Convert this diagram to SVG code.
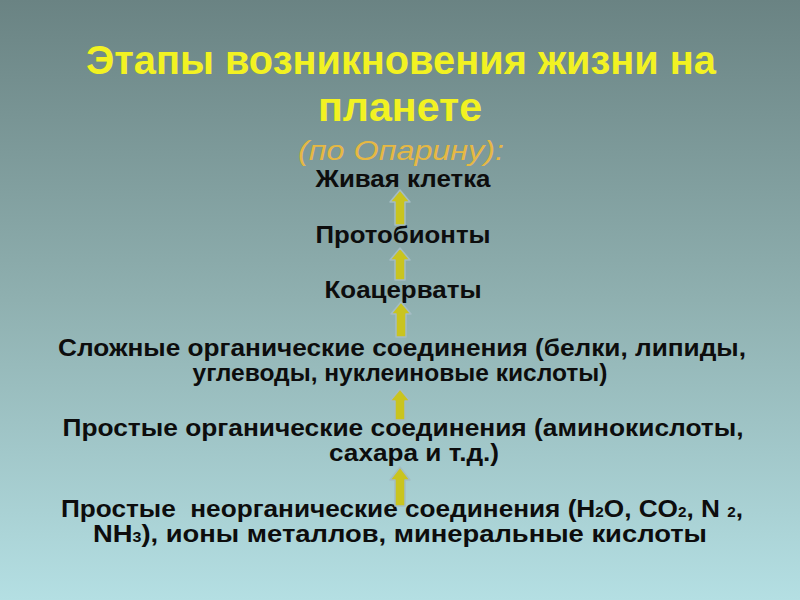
<svg xmlns="http://www.w3.org/2000/svg" width="800" height="600" viewBox="0 0 800 600">
  <defs>
    <linearGradient id="bg" x1="0" y1="0" x2="0" y2="1">
      <stop offset="0" stop-color="#6a8383"/>
      <stop offset="0.5" stop-color="#8fb0b0"/>
      <stop offset="1" stop-color="#b4dfe3"/>
    </linearGradient>
  </defs>
  <style>
    .title { font-family: "Liberation Sans", Arial, sans-serif; font-weight: bold; font-size: 40px; fill: #f2f222; text-anchor: middle; }
    .sub { font-family: "Liberation Sans", Arial, sans-serif; font-style: italic; font-size: 28px; fill: #e6b843; text-anchor: middle; }
    .t { font-family: "Liberation Sans", Arial, sans-serif; font-weight: bold; font-size: 24px; fill: #0d0d0d; text-anchor: middle; white-space: pre; }
    .sb { font-size: 14px; }
    .a { fill: #c9c41f; stroke: #a4bcc4; stroke-width: 1.5; stroke-linejoin: round; }
  </style>
  <rect width="800" height="600" fill="url(#bg)"/>

  <g id="title">
    <text class="title" x="401" y="74" textLength="630" lengthAdjust="spacingAndGlyphs">Этапы возникновения жизни на</text>
    <text class="title" x="400" y="121" textLength="164" lengthAdjust="spacingAndGlyphs">планете</text>
    <text class="sub" x="401" y="160" textLength="206" lengthAdjust="spacingAndGlyphs">(по Опарину):</text>
  </g>

  <g id="n1"><text class="t" x="403" y="187" textLength="175" lengthAdjust="spacingAndGlyphs">Живая клетка</text></g>
  <g id="n2"><text class="t" x="403" y="243" textLength="175" lengthAdjust="spacingAndGlyphs">Протобионты</text></g>
  <g id="n3"><text class="t" x="403" y="298" textLength="157" lengthAdjust="spacingAndGlyphs">Коацерваты</text></g>
  <g id="n4">
    <text class="t" x="402" y="356" textLength="688" lengthAdjust="spacingAndGlyphs">Сложные органические соединения (белки, липиды,</text>
    <text class="t" x="400" y="381" textLength="415" lengthAdjust="spacingAndGlyphs">углеводы, нуклеиновые кислоты)</text>
  </g>
  <g id="n5">
    <text class="t" x="403" y="436" textLength="681" lengthAdjust="spacingAndGlyphs">Простые органические соединения (аминокислоты,</text>
    <text class="t" x="414" y="461" textLength="170" lengthAdjust="spacingAndGlyphs">сахара и т.д.)</text>
  </g>
  <g id="n6">
    <text class="t" x="402" y="517" textLength="682" lengthAdjust="spacingAndGlyphs">Простые  неорганические соединения (H<tspan class="sb">2</tspan>O, CO<tspan class="sb">2</tspan>, N <tspan class="sb">2</tspan>,</text>
    <text class="t" x="400" y="542" textLength="614" lengthAdjust="spacingAndGlyphs">NH<tspan class="sb">3</tspan>), ионы металлов, минеральные кислоты</text>
  </g>

  <g id="connectors">
    <path class="a" d="M400,190 L410,202 L405,202 L405,225 L395,225 L395,202 L390,202 Z"/>
    <path class="a" d="M400,248 L410,260 L405,260 L405,280 L395,280 L395,260 L390,260 Z"/>
    <path class="a" d="M401,302 L411,314 L406,314 L406,337 L396,337 L396,314 L391,314 Z"/>
    <path class="a" d="M400,389 L410,401 L405,401 L405,420 L395,420 L395,401 L390,401 Z"/>
    <path class="a" d="M400,467 L410,480 L405,480 L405,506 L395,506 L395,480 L390,480 Z"/>
  </g>
</svg>
